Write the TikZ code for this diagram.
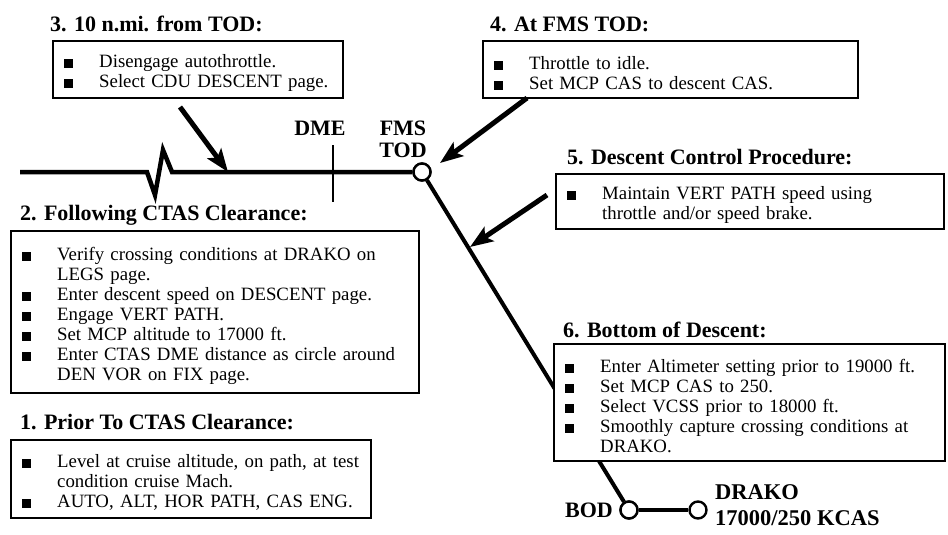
\documentclass[tikz,border=0pt]{standalone}
\usepackage{fontspec}
\setmainfont{Liberation Serif}
\usetikzlibrary{arrows.meta}

% one bulleted entry with a hanging indent; \newline breaks a long entry
\newcommand\bitem[1]{\par\hangindent=46pt\hangafter=1\noindent
  \hspace*{11pt}\makebox[35pt][l]{\rule[-0.5pt]{9pt}{9pt}}#1\par}

\tikzset{
  x=1pt, y=1pt,
  stepbox/.style={draw, fill=white, line width=2.4pt, anchor=north west,
    inner xsep=0pt, inner ysep=0pt,
    font=\fontsize{18.8}{20}\selectfont,
    execute at begin node={\parindent=0pt\parskip=0pt\rightskip=0pt plus 1fil\relax}},
  steptitle/.style={anchor=base west, inner sep=0pt,
    font=\bfseries\fontsize{22}{24}\selectfont},
  tag/.style={inner sep=0pt, font=\bfseries\fontsize{22}{22}\selectfont},
  fix/.style={circle, draw, line width=2.4pt, fill=white,
    minimum size=17pt, inner sep=0pt},
  route/.style={line width=4.5pt, line join=miter},
  pointer/.style={line width=5pt, -{Stealth[length=23pt,width=17pt,inset=5pt]}},
}

\begin{document}
\begin{tikzpicture}
\useasboundingbox (0,0) rectangle (948,-535);

% ---- route: cruise segment, TOD, descent, BOD, DRAKO
\node[fix] (tod) at (422,-172) {};
\node[fix] (bod) at (629,-510) {};
\node[fix] (drako) at (698,-510) {};

\coordinate (cruise) at (20,-172);
\coordinate (zz1) at (147,-172);
\coordinate (zz2) at (155,-195);
\coordinate (zz3) at (163,-150);
\coordinate (zz4) at (172,-172);
\draw[route] (cruise) -- (zz1) -- (zz2) -- (zz3) -- (zz4) -- (tod.west);
\draw[route, line width=4pt] (tod) -- (bod);
\draw[route, line width=4pt] (bod.east) -- (drako.west);
\node[fix] at (tod) {};
\node[fix] at (bod) {};

% DME tick mark
\coordinate (dmetop) at (333,-145);
\coordinate (dmebot) at (333,-202);
\draw[line width=1.6pt] (dmetop) -- (dmebot);

% ---- point labels
\node[tag, anchor=base] (dme) at (320,-135) {DME};
\node[tag, anchor=base] (fms) at (403,-135) {FMS};
\node[tag, anchor=base] (todl) at (403,-157) {TOD};
\node[tag, anchor=base east] (bodl) at (613,-517) {BOD};
\node[tag, anchor=base west, font=\bfseries\fontsize{22.5}{22}\selectfont] (drk1) at (715,-499) {DRAKO};
\node[tag, anchor=base west, font=\bfseries\fontsize{22.5}{22}\selectfont] (drk2) at (715,-525) {17000/250 KCAS};

% ---- procedure steps
\node[steptitle] (t3) at (50,-32) {3. 10 n.mi. from TOD:};
\node[stepbox, text width=290pt, minimum height=57pt] (b3) at (52,-40) {%
  \bitem{Disengage autothrottle.}
  \bitem{Select CDU DESCENT page.}};

\node[steptitle] (t4) at (490,-32) {4. At FMS TOD:};
\node[stepbox, text width=375pt, minimum height=57pt] (b4) at (482,-40) {%
  \bitem{Throttle to idle.}
  \bitem{Set MCP CAS to descent CAS.}};

\node[steptitle] (t5) at (567,-164) {5. Descent Control Procedure:};
\node[stepbox, text width=388pt, minimum height=55pt] (b5) at (555,-173) {%
  \bitem{Maintain VERT PATH speed using\newline throttle and/or speed brake.}};

\node[steptitle] (t2) at (20,-220) {2. Following CTAS Clearance:};
\node[stepbox, text width=408pt, minimum height=162pt] (b2) at (10,-230) {%
  \bitem{Verify crossing conditions at DRAKO on\newline LEGS page.}
  \bitem{Enter descent speed on DESCENT page.}
  \bitem{Engage VERT PATH.}
  \bitem{Set MCP altitude to 17000 ft.}
  \bitem{Enter CTAS DME distance as circle around\newline DEN VOR on FIX page.}};

\node[steptitle] (t1) at (20,-429) {1. Prior To CTAS Clearance:};
\node[stepbox, text width=360pt, minimum height=78pt] (b1) at (10,-439) {%
  \bitem{Level at cruise altitude, on path, at test\newline condition cruise Mach.}
  \bitem{AUTO, ALT, HOR PATH, CAS ENG.}};

\node[steptitle] (t6) at (563,-337) {6. Bottom of Descent:};
\node[stepbox, text width=391pt, minimum height=117pt] (b6) at (553,-343) {%
  \bitem{Enter Altimeter setting prior to 19000 ft.}
  \bitem{Set MCP CAS to 250.}
  \bitem{Select VCSS prior to 18000 ft.}
  \bitem{Smoothly capture crossing conditions at\newline DRAKO.}};

% ---- pointers from the steps to the route
\coordinate (p3) at (180,-107);
\coordinate (q3) at (228,-172);
\draw[pointer] (p3) -- (q3);
\coordinate (p4) at (527,-98);
\coordinate (q4) at (440,-163);
\draw[pointer] (p4) -- (q4);
\coordinate (p5) at (547,-195);
\coordinate (q5) at (470,-247);
\draw[pointer] (p5) -- (q5);
\end{tikzpicture}
\end{document}
